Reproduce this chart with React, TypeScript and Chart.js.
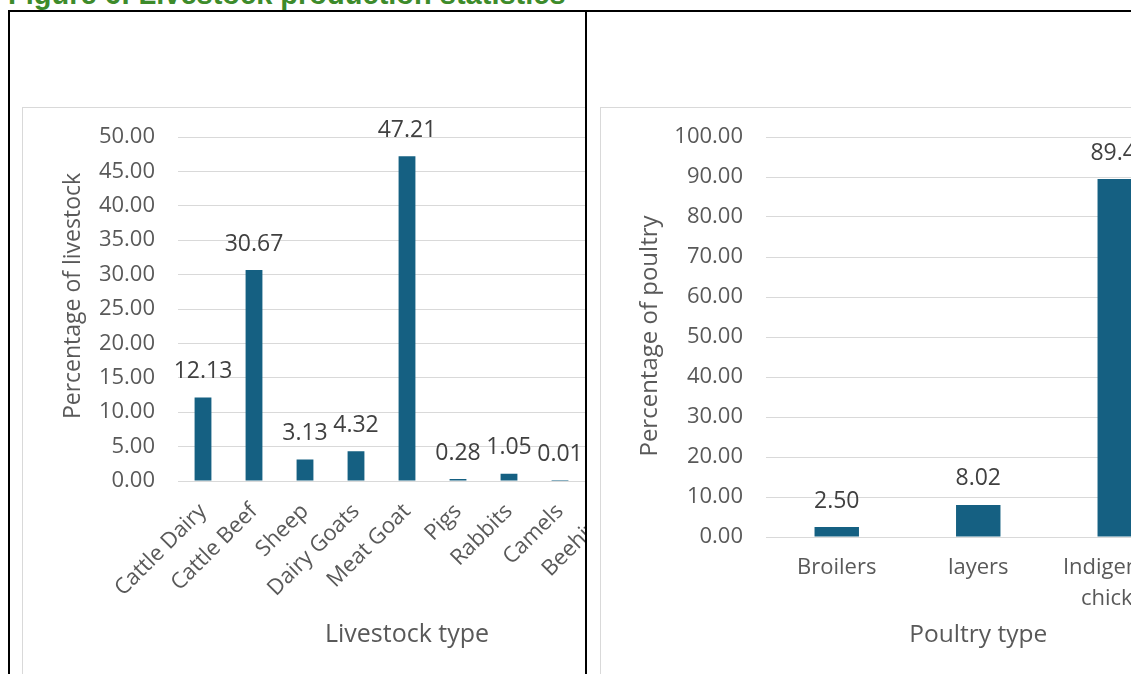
import React, { useEffect, useRef } from 'react';
import { Chart, registerables } from 'chart.js';

Chart.register(...registerables);

// ---- data ----
const livestockTypes = ['Cattle Dairy', 'Cattle Beef', 'Sheep', 'Dairy Goats', 'Meat Goat', 'Pigs', 'Rabbits', 'Camels', 'Beehives'];
const livestockShares = [12.13, 30.67, 3.13, 4.32, 47.21, 0.28, 1.05, 0.01, 1.2];
const livestockAxisMax = 50;
const livestockAxisStep = 5;

const poultryTypes: (string | string[])[] = ['Broilers', 'layers', ['Indigenous', 'chicken']];
const poultryShares = [2.5, 8.02, 89.48];
const poultryAxisMax = 100;
const poultryAxisStep = 10;

const FONT = "'Open Sans', 'Noto Sans', sans-serif";
const BAR_COLOR = '#156082';
const GRID = '#d9d9d9';
const AXIS_TEXT = '#595959';
const LABEL_TEXT = '#404040';

// value printed above every bar
const valueLabels = {
  id: 'valueLabels',
  afterDatasetsDraw(chart: any) {
    const { ctx } = chart;
    const meta = chart.getDatasetMeta(0);
    const data = chart.data.datasets[0].data as number[];
    ctx.save();
    ctx.font = `23px ${FONT}`;
    ctx.fillStyle = LABEL_TEXT;
    ctx.textAlign = 'center';
    ctx.textBaseline = 'middle';
    meta.data.forEach((bar: any, i: number) => {
      ctx.fillText(Number(data[i]).toFixed(2), bar.x, bar.y - 26);
    });
    ctx.restore();
  },
};

// rotated value-axis title, placed at a fixed spot beside the ticks
const valueAxisTitle = {
  id: 'valueAxisTitle',
  afterDraw(chart: any, _args: any, opts: any) {
    const { ctx } = chart;
    ctx.save();
    ctx.translate(opts.x, opts.y);
    ctx.rotate(-Math.PI / 2);
    ctx.font = `${opts.size}px ${FONT}`;
    ctx.fillStyle = AXIS_TEXT;
    ctx.textAlign = 'center';
    ctx.textBaseline = 'middle';
    ctx.fillText(opts.text, 0, 0);
    ctx.restore();
  },
};

type PanelProps = {
  labels: (string | string[])[];
  values: number[];
  yMax: number;
  yStep: number;
  yTitle: string;
  yTitleX: number;
  yTitleY: number;
  yTitleSize: number;
  xTitle: string;
  xTitleSize: number;
  width: number;
  height: number;
  padLeft: number;
  padRight: number;
  padTop: number;
  yAxisWidth: number;
  yTickPad: number;
  xAxisHeight: number;
  xTickPad: number;
  xRotation: number;
  barPct: number;
};

function BarPanel(p: PanelProps) {
  const ref = useRef<HTMLCanvasElement | null>(null);

  useEffect(() => {
    if (!ref.current) return;
    const xTitleLine = p.xTitleSize * 1.2;
    const chart = new Chart(ref.current, {
      type: 'bar',
      data: {
        labels: p.labels as any,
        datasets: [
          {
            data: p.values,
            backgroundColor: BAR_COLOR,
            borderWidth: 0,
            categoryPercentage: 1,
            barPercentage: p.barPct,
          },
        ],
      },
      options: {
        animation: false,
        responsive: false,
        maintainAspectRatio: false,
        devicePixelRatio: 1,
        layout: { padding: { left: p.padLeft, right: p.padRight, top: p.padTop, bottom: 0 } },
        plugins: {
          legend: { display: false },
          tooltip: { enabled: false },
          valueAxisTitle: { text: p.yTitle, x: p.yTitleX, y: p.yTitleY, size: p.yTitleSize },
        } as any,
        scales: {
          x: {
            grid: { display: false },
            border: { display: false },
            ticks: {
              autoSkip: false,
              minRotation: p.xRotation,
              maxRotation: p.xRotation,
              padding: p.xTickPad,
              color: AXIS_TEXT,
              font: { family: FONT, size: 22, lineHeight: 1.4 },
            },
            title: {
              display: true,
              text: p.xTitle,
              color: AXIS_TEXT,
              font: { family: FONT, size: p.xTitleSize, lineHeight: 1.2 },
              padding: { top: 0, bottom: p.height - 527 - xTitleLine / 2 },
            },
            afterFit: (scale: any) => {
              scale.height = p.xAxisHeight;
            },
          },
          y: {
            min: 0,
            max: p.yMax,
            grid: { color: GRID, lineWidth: 1, drawTicks: false },
            border: { display: false },
            ticks: {
              stepSize: p.yStep,
              padding: p.yTickPad,
              color: AXIS_TEXT,
              font: { family: FONT, size: 22 },
              callback: (v: any) => Number(v).toFixed(2),
            },
            afterFit: (scale: any) => {
              scale.width = p.yAxisWidth;
              // the layout padding already leaves room for the end labels
              scale.paddingTop = 0;
              scale.paddingBottom = 0;
            },
          },
        },
      },
      plugins: [valueLabels, valueAxisTitle],
    });
    return () => chart.destroy();
  }, []);

  return <canvas ref={ref} width={p.width} height={p.height} style={{ display: 'block' }} />;
}

const line = (s: React.CSSProperties): React.CSSProperties => ({ position: 'absolute', background: '#000', ...s });

export default function App() {
  return (
    <div style={{ position: 'fixed', left: 0, top: 0, width: 1131, height: 674, overflow: 'hidden', background: '#fff' }}>
      <div
        style={{
          position: 'absolute',
          left: 8,
          top: -20.5,
          fontFamily: "'Liberation Sans', Arial, sans-serif",
          fontWeight: 700,
          fontSize: 29,
          lineHeight: '29px',
          color: '#3d8b2b',
          whiteSpace: 'nowrap',
        }}
      >
        Figure 6: Livestock production statistics
      </div>

      {/* livestock panel */}
      <div style={{ position: 'absolute', left: 10, top: 12, width: 575, height: 662, overflow: 'hidden' }}>
        <div style={{ position: 'absolute', left: 12, top: 95, border: `1px solid ${GRID}` }}>
          <BarPanel
            labels={livestockTypes}
            values={livestockShares}
            yMax={livestockAxisMax}
            yStep={livestockAxisStep}
            yTitle="Percentage of livestock"
            yTitleX={50}
            yTitleY={188}
            yTitleSize={23}
            xTitle="Livestock type"
            xTitleSize={25}
            width={650}
            height={600}
            padLeft={36.2}
            padRight={36.5}
            padTop={29}
            yAxisWidth={118.3}
            yTickPad={22.5}
            xAxisHeight={227}
            xTickPad={8}
            xRotation={45}
            barPct={0.33}
          />
        </div>
      </div>

      {/* poultry panel */}
      <div style={{ position: 'absolute', left: 587, top: 12, width: 544, height: 662, overflow: 'hidden' }}>
        <div style={{ position: 'absolute', left: 13, top: 95, border: `1px solid ${GRID}` }}>
          <BarPanel
            labels={poultryTypes}
            values={poultryShares}
            yMax={poultryAxisMax}
            yStep={poultryAxisStep}
            yTitle="Percentage of poultry"
            yTitleX={49}
            yTitleY={228}
            yTitleSize={24}
            xTitle="Poultry type"
            xTitleSize={24.5}
            width={630}
            height={600}
            padLeft={35.2}
            padRight={40.5}
            padTop={29}
            yAxisWidth={129.8}
            yTickPad={23}
            xAxisHeight={171}
            xTickPad={7.5}
            xRotation={0}
            barPct={0.314}
          />
        </div>
      </div>

      {/* table cell borders */}
      <div style={line({ left: 8, top: 10, width: 2, height: 664 })} />
      <div style={line({ left: 8, top: 10, width: 1123, height: 2 })} />
      <div style={line({ left: 585, top: 10, width: 2, height: 664 })} />
    </div>
  );
}
